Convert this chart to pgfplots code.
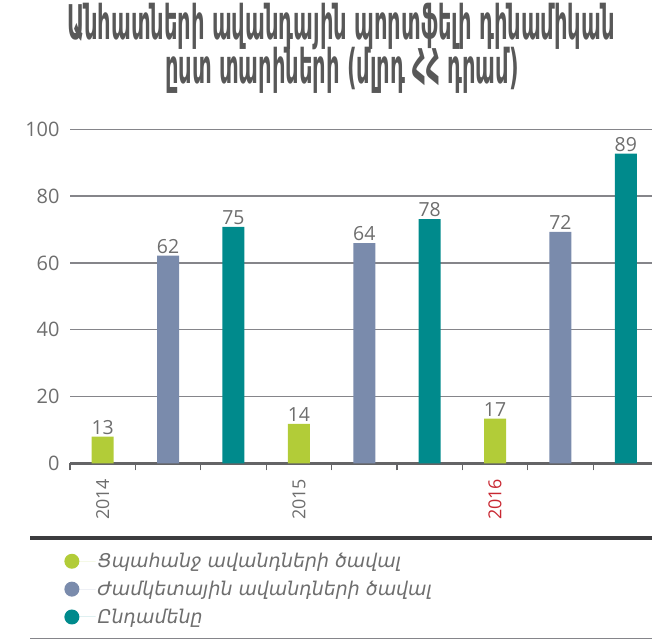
\documentclass[border=0pt]{standalone}
\usepackage{pgfplots}
\pgfplotsset{compat=1.18}
\usepackage{pgfplotstable}
\usepackage{fontspec}
\setmainfont{Open Sans}
\newfontfamily\armit{DejaVu Sans Oblique}
\newfontfamily\titlefont[FakeStretch=0.49]{DejaVu Sans Condensed Bold}
\definecolor{cgreen}{RGB}{178,204,56}
\definecolor{cblue}{RGB}{122,139,172}
\definecolor{cteal}{RGB}{0,138,140}
\definecolor{gridgray}{RGB}{133,133,138}
\definecolor{axisgray}{RGB}{100,100,102}
\definecolor{textgray}{RGB}{110,110,110}
\definecolor{titlegray}{RGB}{88,88,88}
\definecolor{darkline}{RGB}{60,60,62}
\definecolor{yearred}{RGB}{200,40,50}

\pgfplotstableread{
x y lab
0 8.0 13
3 11.8 14
6 13.4 17
}\tblA
\pgfplotstableread{
x y lab
1 62.2 62
4 65.9 64
7 69.3 72
}\tblB
\pgfplotstableread{
x y lab
2 70.8 75
5 73.1 78
8 92.7 89
}\tblC

\begin{document}
\begin{tikzpicture}[x=1bp,y=1bp]
\useasboundingbox (0,0) rectangle (652,640);
\node[text=titlegray, anchor=base, font=\titlefont\fontsize{48}{56}\selectfont, inner sep=0] at (341,600) {Անհատների ավանդային պորտֆելի դինամիկան};
\node[text=titlegray, anchor=base, font=\titlefont\fontsize{48}{56}\selectfont, inner sep=0] at (342,556) {ըստ տարիների (մլրդ ՀՀ դրամ)};
\begin{axis}[
  at={(70bp,176.7bp)}, anchor=south west,
  scale only axis, width=582bp, height=334bp,
  xmin=-0.5, xmax=8.4, ymin=0, ymax=100,
  ytick={0,20,40,60,80,100},
  xtick={-0.5,0.5,1.5,2.5,3.5,4.5,5.5,6.5,7.5},
  xticklabels={},
  extra x ticks={0,3,6},
  extra x tick labels={2014,2015,\textcolor{yearred}{2016}},
  extra x tick style={major tick length=0pt, tick label style={yshift=-12bp, rotate=90, anchor=east, font=\fontsize{18}{21}\selectfont}},
  ymajorgrids, grid style={line width=1.3bp, draw=gridgray},
  axis x line*=bottom, axis y line*=left,
  x axis line style={line width=2.5bp, draw=axisgray, -},
  y axis line style={draw=none},
  ytick style={draw=none},
  xtick style={line width=1.3bp, draw=axisgray},
  tick align=outside, major tick length=7bp,
  tick label style={font=\fontsize{20}{24}\selectfont, text=textgray},
  /pgf/number format/assume math mode=true,
  clip=false,
  ybar, bar width=22bp,
  every axis plot/.append style={draw=none, bar shift=0pt},
  nodes near coords, point meta=explicit symbolic,
  nodes near coords style={font=\fontsize{19.5}{23}\selectfont, text=textgray, anchor=south, inner sep=2bp},
  legend style={at={(axis description cs:-0.010,-0.263)}, anchor=north west, draw=none, fill=none,
    font=\armit\fontsize{19}{23}\selectfont, text=textgray, row sep=8bp, inner sep=0pt,
    legend cell align=left},
  legend image code/.code={\fill (0bp,0bp) circle (7.5bp); \path (-7.5bp,0bp) -- (23.8bp,0bp);},
]
\addplot[fill=cgreen] table[x=x,y=y,meta=lab] {\tblA};
\addlegendentry{Ցպահանջ ավանդների ծավալ}
\addplot[fill=cblue] table[x=x,y=y,meta=lab] {\tblB};
\addlegendentry{Ժամկետային ավանդների ծավալ}
\addplot[fill=cteal] table[x=x,y=y,meta=lab] {\tblC};
\addlegendentry{Ընդամենը}
\end{axis}
\draw[line width=4bp, darkline] (30,102) -- (652,102);
\draw[line width=1.2bp, gridgray] (30,1.2) -- (652,1.2);
\end{tikzpicture}
\end{document}
